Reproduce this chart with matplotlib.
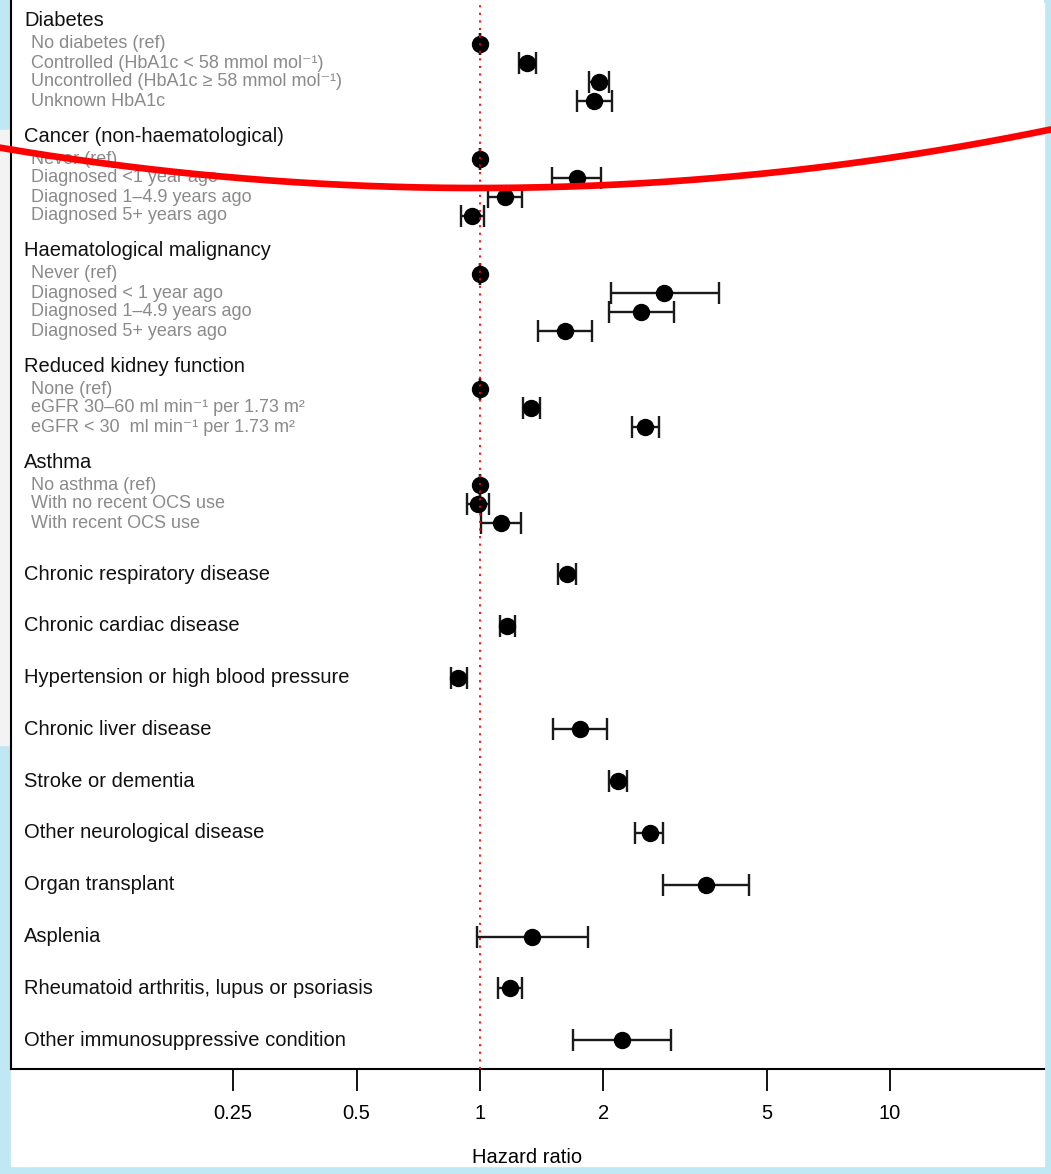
import numpy as np
import matplotlib.pyplot as plt
from matplotlib.lines import Line2D
from matplotlib.patches import Rectangle

plt.rcParams['font.family'] = ['Liberation Sans', 'DejaVu Sans']

###############################################################################
# grouped rows: header + sub-categories
group_headers = ['Diabetes', 'Cancer (non-haematological)', 'Haematological malignancy',
                 'Reduced kidney function', 'Asthma']

diab_labels = ['No diabetes (ref)',
               'Controlled (HbA1c < 58 mmol mol\u207b\u00b9)',
               'Uncontrolled (HbA1c \u2265 58 mmol mol\u207b\u00b9)',
               'Unknown HbA1c']
diab_hr = [1.0, 1.30, 1.95, 1.90]
diab_lo = [1.0, 1.245, 1.84, 1.72]
diab_hi = [1.0, 1.37, 2.06, 2.10]

canc_labels = ['Never (ref)', 'Diagnosed <1 year ago', 'Diagnosed 1\u20134.9 years ago',
               'Diagnosed 5+ years ago']
canc_hr = [1.0, 1.72, 1.15, 0.956]
canc_lo = [1.0, 1.50, 1.046, 0.90]
canc_hi = [1.0, 1.97, 1.266, 1.02]

haem_labels = ['Never (ref)', 'Diagnosed < 1 year ago', 'Diagnosed 1\u20134.9 years ago',
               'Diagnosed 5+ years ago']
haem_hr = [1.0, 2.81, 2.47, 1.61]
haem_lo = [1.0, 2.09, 2.06, 1.385]
haem_hi = [1.0, 3.83, 2.97, 1.875]

kid_labels = ['None (ref)',
              'eGFR 30\u201360 ml min\u207b\u00b9 per 1.73 m\u00b2',
              'eGFR < 30  ml min\u207b\u00b9 per 1.73 m\u00b2']
kid_hr = [1.0, 1.33, 2.53]
kid_lo = [1.0, 1.27, 2.35]
kid_hi = [1.0, 1.40, 2.73]

asth_labels = ['No asthma (ref)', 'With no recent OCS use', 'With recent OCS use']
asth_hr = [1.0, 0.989, 1.125]
asth_lo = [1.0, 0.93, 1.006]
asth_hi = [1.0, 1.05, 1.26]

# single rows
single_labels = ['Chronic respiratory disease', 'Chronic cardiac disease',
                 'Hypertension or high blood pressure', 'Chronic liver disease',
                 'Stroke or dementia', 'Other neurological disease', 'Organ transplant',
                 'Asplenia', 'Rheumatoid arthritis, lupus or psoriasis',
                 'Other immunosuppressive condition']
single_hr = [1.63, 1.164, 0.884, 1.75, 2.17, 2.60, 3.56, 1.34, 1.184, 2.22]
single_lo = [1.55, 1.12, 0.85, 1.51, 2.06, 2.39, 2.80, 0.983, 1.106, 1.686]
single_hi = [1.71, 1.22, 0.93, 2.04, 2.28, 2.80, 4.53, 1.83, 1.266, 2.92]

xticks = [0.25, 0.5, 1, 2, 5, 10]
xticklabels = ['0.25', '0.5', '1', '2', '5', '10']

###############################################################################
W, H = 1051, 1174
fig = plt.figure(figsize=(W / 100, H / 100), dpi=100, facecolor='#bfe8f4')
fig.add_artist(Rectangle((11 / W, 1 - 1166 / H), (1044 - 11) / W, (1166 - 3) / H,
                         transform=fig.transFigure, color='white', zorder=-10))
fig.add_artist(Rectangle((0, 1 - 745 / H), 11 / W, (745 - 130) / H,
                         transform=fig.transFigure, color='#f3f3f3', zorder=-10))

ax = fig.add_axes([11 / W, 1 - 1069 / H, (1044 - 11) / W, 1069 / H])
ax.set_xscale('log')
ax.set_xlim(10 ** ((11 - 480) / 410), 10 ** ((1044 - 480) / 410))
ax.set_ylim(1069, 0)

tr = ax.get_yaxis_transform()
HEAD_FS, SUB_FS = 14.5, 13
SUB_COL = '#8a8a8a'


def draw_rows(ys, hr, lo, hi):
    hr = np.array(hr); lo = np.array(lo); hi = np.array(hi)
    ax.errorbar(hr, ys, xerr=[hr - lo, hi - hr], fmt='o', color='black',
                ecolor='#1a1a1a', ms=11.5, capsize=8, elinewidth=1.7, capthick=1.7,
                zorder=3)


groups = [(diab_labels, diab_hr, diab_lo, diab_hi),
          (canc_labels, canc_hr, canc_lo, canc_hi),
          (haem_labels, haem_hr, haem_lo, haem_hi),
          (kid_labels, kid_hr, kid_lo, kid_hi),
          (asth_labels, asth_hr, asth_lo, asth_hi)]

y = 21
for head, (labs, hr, lo, hi) in zip(group_headers, groups):
    ax.text(0.0126, y, head, transform=tr, fontsize=HEAD_FS, color='#111111',
            va='center', ha='left')
    y += 23
    ys = []
    for lab in labs:
        ax.text(0.0194, y, lab, transform=tr, fontsize=SUB_FS, color=SUB_COL,
                va='center', ha='left')
        ys.append(y)
        y += 19
    draw_rows(ys, hr, lo, hi)
    y += 16

y = ys[-1] + 51
ys = []
for lab in single_labels:
    ax.text(0.0126, y, lab, transform=tr, fontsize=HEAD_FS, color='#111111',
            va='center', ha='left')
    ys.append(y)
    y += 51.8
draw_rows(ys, single_hr, single_lo, single_hi)

ax.axvline(1, color='red', lw=1.3, ls=(0, (1.2, 3)), zorder=5)

for s in ['top', 'right']:
    ax.spines[s].set_visible(False)
for s in ['left', 'bottom']:
    ax.spines[s].set_linewidth(1.5)
ax.set_yticks([])
ax.set_xticks(xticks)
ax.set_xticklabels(xticklabels)
ax.minorticks_off()
ax.tick_params(axis='x', length=16, width=1.3, direction='out', pad=9, labelsize=14.5)
ax.set_xlabel('Hazard ratio', fontsize=14.5, labelpad=18)

# red hand-drawn arc over the screenshot
xs = np.linspace(0, W, 300)
ys_img = -2654 + np.sqrt(2842 ** 2 - (xs - 477) ** 2)
fig.add_artist(Line2D(xs / W, 1 - ys_img / H, transform=fig.transFigure,
                      color='red', lw=4.8, zorder=10))

fig.savefig('out.png', dpi=100)
